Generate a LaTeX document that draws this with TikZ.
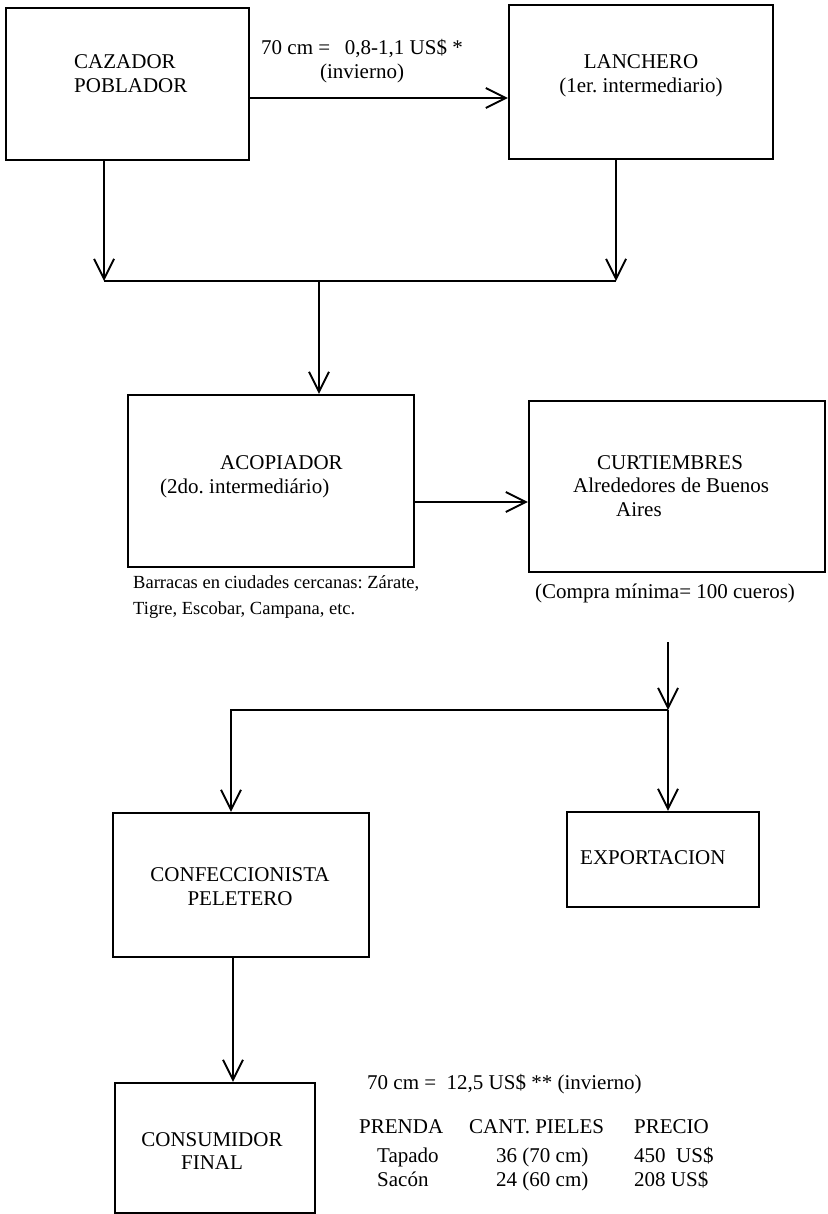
\documentclass[tikz,border=0pt]{standalone}
\usepackage{fontspec}
\setmainfont{Liberation Serif}
\usetikzlibrary{arrows.meta,calc}
\frenchspacing
\tikzset{
  caja/.style={draw, line width=2.2pt, inner sep=0pt},
  flecha/.style={line width=1.9pt, -{Straight Barb[length=20pt,width=20pt]}},
  linea/.style={line width=1.9pt},
  texto/.style={inner sep=0pt, font=\fontsize{21pt}{23.5pt}\selectfont}
}

\begin{document}
\begin{tikzpicture}[x=1pt,y=-1pt]
  \useasboundingbox (0,0) rectangle (827,1214);
  % cajas
  \node[caja, minimum width=243pt, minimum height=152pt] (caz) at (127.5,84) {};
  \node[caja, minimum width=264pt, minimum height=154pt] (lan) at (641,82) {};
  \node[caja, minimum width=286pt, minimum height=172pt] (aco) at (271,481) {};
  \node[caja, minimum width=296pt, minimum height=171pt] (cur) at (677,486.5) {};
  \node[caja, minimum width=256pt, minimum height=144pt] (conf) at (241,885) {};
  \node[caja, minimum width=192pt, minimum height=95pt] (exp) at (663,859.5) {};
  \node[caja, minimum width=200pt, minimum height=130pt] (cons) at (215,1148) {};
  % textos
  \node[texto, anchor=west, align=left] (cazT) at (74,73.5) {CAZADOR\\POBLADOR};
  \node[texto, align=center] (lanT) at (641,76) {LANCHERO\\(1er. intermediario)};
  \node[texto, align=center] (precioA) at (362,61) {70 cm =\hspace{0.7em}0,8-1,1 US\$ *\\(invierno)};
  \node[texto, anchor=west, align=left] (acoT) at (160,477) {\hspace*{60pt}ACOPIADOR\\(2do. intermediário)};
  \node[texto, anchor=west, align=left] (curT) at (573,486) {\hspace*{24pt}CURTIEMBRES\\Alrededores de Buenos\\\hspace*{43pt}Aires};
  \node[texto, anchor=west, align=left, font=\fontsize{18.5pt}{26pt}\selectfont] (barT) at (133,597) {Barracas en ciudades cercanas: Zárate,\\Tigre, Escobar, Campana, etc.};
  \node[texto, anchor=base west] (compT) at (535,598) {(Compra mínima= 100 cueros)};
  \node[texto, align=center] (confT) at (240,886.5) {CONFECCIONISTA\\PELETERO};
  \node[texto, anchor=base west] (expT) at (580,864) {EXPORTACION};
  \node[texto, align=center] (consT) at (212,1151) {CONSUMIDOR\\FINAL};
  \node[texto, anchor=base west] (precioB) at (367,1089) {70 cm =\ \ 12,5 US\$ ** (invierno)};
  % tabla de precios
  \foreach \px/\py/\txt [count=\i] in {359/1133/PRENDA, 469/1133/CANT. PIELES, 634/1133/PRECIO,
      377/1162/Tapado, 496/1162/36 (70 cm), 634/1162/450\ \ US\$,
      377/1186/Sacón, 496/1186/24 (60 cm), 634/1186/208 US\$}
    \node[texto, anchor=base west] (tab\i) at (\px,\py) {\txt};
  % flechas
  \coordinate (jA) at (104,281);
  \coordinate (jB) at (616,281);
  \coordinate (jC) at (319,281);
  \coordinate (sA) at ($(caz.east)+(0,14)$);
  \draw[flecha] (sA) -- (sA -| lan.west);
  \draw[flecha] (caz.south -| jA) -- (jA);
  \draw[flecha] (lan.south -| jB) -- (jB);
  \draw[linea] (jA) -- (jB);
  \draw[flecha] (jC) -- (jC |- aco.north);
  \coordinate (sB) at ($(aco.east)+(0,21)$);
  \draw[flecha] (sB) -- (sB -| cur.west);
  \coordinate (cB) at (668,642);
  \coordinate (jD) at (668,710);
  \coordinate (jE) at (231,710);
  \draw[flecha] (cB) -- (jD);
  \draw[flecha] (jD) -- (jD |- exp.north);
  \draw[flecha] (jD) -- (jE) -- (jE |- conf.north);
  \coordinate (sC) at ([xshift=-8pt]conf.south);
  \draw[flecha] (sC) -- (sC |- cons.north);
\end{tikzpicture}
\end{document}
